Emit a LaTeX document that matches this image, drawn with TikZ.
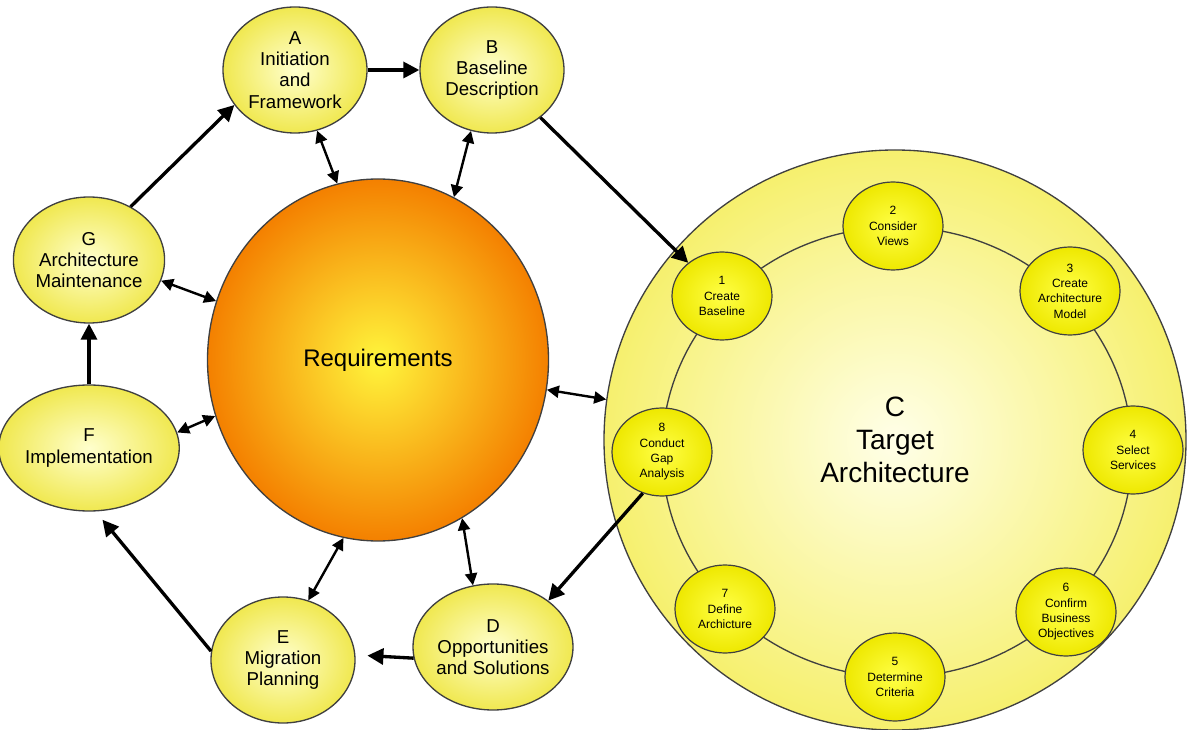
\documentclass[tikz,border=0pt]{standalone}
\usepackage{fontspec}
\setmainfont{Liberation Sans}
\usetikzlibrary{shapes.geometric,arrows.meta}

\definecolor{phaseIn}{RGB}{255,255,205}
\definecolor{phaseOut}{RGB}{240,232,80}
\definecolor{stepIn}{RGB}{255,255,70}
\definecolor{stepOut}{RGB}{238,232,0}
\definecolor{targetIn}{RGB}{255,255,232}
\definecolor{targetOut}{RGB}{246,240,110}
\definecolor{reqIn}{RGB}{255,245,60}
\definecolor{reqOut}{RGB}{244,128,0}

\tikzset{every picture/.style={line width=0.75pt}}
\tikzset{
  phase/.style={ellipse, draw=black!75, line width=1pt, shading=radial, inner color=phaseIn, outer color=phaseOut,
    minimum width=108pt, minimum height=94.5pt, inner sep=0pt, align=center, font=\fontsize{14}{16}\selectfont},
  stepnode/.style={ellipse, draw=black!75, line width=0.9pt, shading=radial, inner color=stepIn, outer color=stepOut,
    minimum width=75pt, minimum height=66pt, inner sep=0pt, align=center, font=\fontsize{9}{11.5}\selectfont},
  flow/.style={line width=2.5pt, -{Triangle[length=12pt,width=12pt]}},
  link/.style={line width=1.8pt, {Triangle[length=9pt,width=9pt]}-{Triangle[length=9pt,width=9pt]}}
}

\begin{document}
\begin{tikzpicture}[x=0.75pt,y=0.75pt,yscale=-1,xscale=1]
\useasboundingbox (0,0) rectangle (1188,730);

%Shape: Circle (target architecture)
\node [ellipse, draw=black!75, line width=1pt, shading=radial, inner color=targetIn, outer color=targetOut,
  minimum width=436.5pt, minimum height=435pt, inner sep=0pt, align=center,
  font=\fontsize{21}{25}\selectfont] (C) at (895,440) {C\\Target\\Architecture};
%Shape: Ellipse (ring)
\coordinate (ring) at (897,452);
\draw [black!75, line width=1pt] (ring) ellipse [x radius=235, y radius=225];

%Shape: Ellipse (steps)
\node [stepnode] (c1) at (722,296) {1\\Create\\Baseline};
\node [stepnode] (c2) at (893,226) {2\\Consider\\Views};
\node [stepnode] (c3) at (1070,291) {3\\Create\\Architecture\\Model};
\node [stepnode] (c4) at (1133,450) {4\\Select\\Services};
\node [stepnode] (c5) at (895,677) {5\\Determine\\Criteria};
\node [stepnode] (c6) at (1066,612) {6\\Confirm\\Business\\Objectives};
\node [stepnode] (c7) at (725,609) {7\\Define\\Archicture};
\node [stepnode] (c8) at (662,452) {8\\Conduct\\Gap\\Analysis};

%Shape: Ellipse (requirements)
\node [ellipse, draw=black!75, line width=1pt, shading=radial, inner color=reqIn, outer color=reqOut,
  minimum width=255.75pt, minimum height=271.5pt, inner sep=0pt,
  font=\fontsize{18}{21}\selectfont] (Req) at (378,360) {Requirements};

%Shape: Ellipse (phases)
\node [phase] (A) at (295,70) {A\\Initiation\\and\\Framework};
\node [phase] (B) at (492,70) {B\\Baseline\\Description};
\node [phase] (D) at (493,647) {D\\Opportunities\\and Solutions};
\node [phase] (E) at (283,660) {E\\Migration\\Planning};
\node [phase] (F) at (89,448) {F\\Implementation};
\node [phase] (G) at (89,260) {G\\Architecture\\Maintenance};

%Straight Lines (cycle)
\draw [flow] (A) -- (B);
\draw [flow] (B) -- (c1);
\draw [flow] (c8.-115) -- (D.40);
\draw [flow, shorten >=9pt] (D.188) -- (E.4);
\draw [flow, shorten >=8pt] (E.173) -- (F.-84);
\draw [flow] (F) -- (G);
\draw [flow] (G.52) -- (A.210);

%Straight Lines (to requirements)
\draw [link] (A.-70) -- (Req.103);
\draw [link] (B.-109) -- (Req.65);
\draw [link] (G.-16) -- (Req.160);
\draw [link] (F.10) -- (Req.-161);
\draw [link] (E.67) -- (Req.-101);
\draw [link] (D.108) -- (Req.-62);
\draw [link] (Req.-10) -- (C.172);

\end{tikzpicture}
\end{document}
